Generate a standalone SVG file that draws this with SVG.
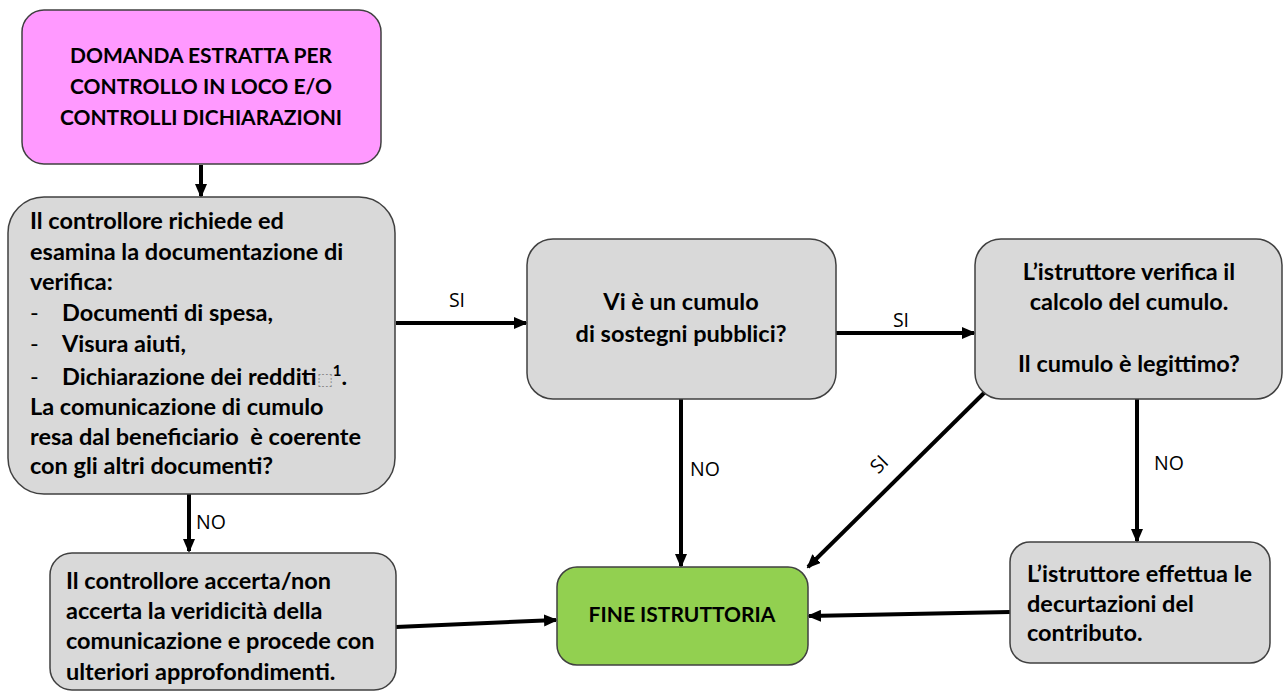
<svg xmlns="http://www.w3.org/2000/svg" width="1283" height="693" viewBox="0 0 1283 693">
<style>
.box{stroke:#404040;stroke-width:1.5}
.grey{fill:#d9d9d9}
.t{font-family:Lato,"Liberation Sans",sans-serif;font-weight:bold;font-size:23.5px;fill:#000}
.cap{font-size:21px}
.c{text-anchor:middle}
.lbl{font-family:"Open Sans","Liberation Sans",sans-serif;font-size:19.5px;fill:#000}
.ln{stroke:#000;stroke-width:4;fill:none;marker-end:url(#ah)}
</style>
<defs>
<marker id="ah" markerWidth="14" markerHeight="12" refX="12" refY="6" orient="auto" markerUnits="userSpaceOnUse">
<path d="M0,0 L14,6 L0,12 Z" fill="#000"/>
</marker>
</defs>
<g id="connectors">
<line class="ln" x1="201" y1="165" x2="201" y2="196"/>
<line class="ln" x1="396" y1="323" x2="526" y2="323"/>
<line class="ln" x1="836" y1="333" x2="974" y2="333"/>
<line class="ln" x1="681" y1="399" x2="681" y2="566"/>
<line class="ln" x1="985" y1="392" x2="808" y2="567"/>
<line class="ln" x1="1137" y1="399" x2="1137" y2="541"/>
<line class="ln" x1="1010" y1="612" x2="809" y2="616"/>
<line class="ln" x1="189" y1="494" x2="189" y2="551"/>
<line class="ln" x1="396" y1="627" x2="556" y2="620"/>
<text class="lbl" x="457" y="307" text-anchor="middle">SI</text>
<text class="lbl" x="901" y="327" text-anchor="middle">SI</text>
<text class="lbl" x="705" y="476" text-anchor="middle">NO</text>
<text class="lbl" x="1169" y="470" text-anchor="middle">NO</text>
<text class="lbl" x="211" y="529" text-anchor="middle">NO</text>
<text class="lbl" x="0" y="0" text-anchor="middle" transform="translate(884,469) rotate(-45)">SI</text>
</g>
<g id="n1">
<rect class="box" x="22" y="10" width="359" height="154" rx="22" fill="#ff99ff"/>
<text class="t cap c" x="201" y="63">DOMANDA ESTRATTA PER</text>
<text class="t cap c" x="201" y="94">CONTROLLO IN LOCO E/O</text>
<text class="t cap c" x="201" y="125">CONTROLLI DICHIARAZIONI</text>
</g>
<g id="n2">
<rect class="box grey" x="8" y="197" width="387" height="297" rx="36"/>
<text class="t" x="30" y="229">Il controllore richiede ed</text>
<text class="t" x="30" y="260">esamina la documentazione di</text>
<text class="t" x="30" y="290">verifica:</text>
<text class="t" x="30" y="321"><tspan font-weight="normal">-</tspan><tspan x="62">Documenti di spesa,</tspan></text>
<text class="t" x="30" y="352"><tspan font-weight="normal">-</tspan><tspan x="62">Visura aiuti,</tspan></text>
<text class="t" x="30" y="385"><tspan font-weight="normal">-</tspan><tspan x="62">Dichiarazione dei redditi</tspan><tspan font-family="'DejaVu Sans',sans-serif" font-weight="normal" font-size="17" fill="#888">⬚</tspan><tspan font-size="15" dy="-9">1</tspan><tspan dy="9">.</tspan></text>
<text class="t" x="30" y="415">La comunicazione di cumulo</text>
<text class="t" x="30" y="445" style="white-space:pre">resa dal beneficiario  è coerente</text>
<text class="t" x="30" y="474">con gli altri documenti?</text>
</g>
<g id="n3">
<rect class="box grey" x="527" y="239" width="309" height="160" rx="26"/>
<text class="t c" x="681" y="310">Vi è un cumulo</text>
<text class="t c" x="681" y="342">di sostegni pubblici?</text>
</g>
<g id="n4">
<rect class="box grey" x="975" y="239" width="307" height="160" rx="26"/>
<text class="t c" x="1129" y="280">L’istruttore verifica il</text>
<text class="t c" x="1129" y="310">calcolo del cumulo.</text>
<text class="t c" x="1129" y="372">Il cumulo è legittimo?</text>
</g>
<g id="n5">
<rect class="box grey" x="50" y="553" width="346" height="137" rx="22"/>
<text class="t" x="66" y="589">Il controllore accerta/non</text>
<text class="t" x="66" y="619">accerta la veridicità della</text>
<text class="t" x="66" y="649">comunicazione e procede con</text>
<text class="t" x="66" y="680">ulteriori approfondimenti.</text>
</g>
<g id="n6">
<rect class="box" x="557" y="567" width="251" height="98" rx="20" fill="#92d050"/>
<text class="t cap c" x="682" y="622">FINE ISTRUTTORIA</text>
</g>
<g id="n7">
<rect class="box grey" x="1010" y="542" width="260" height="121" rx="20"/>
<text class="t" x="1027" y="582">L’istruttore effettua le</text>
<text class="t" x="1027" y="612">decurtazioni del</text>
<text class="t" x="1027" y="641">contributo.</text>
</g>
</svg>
